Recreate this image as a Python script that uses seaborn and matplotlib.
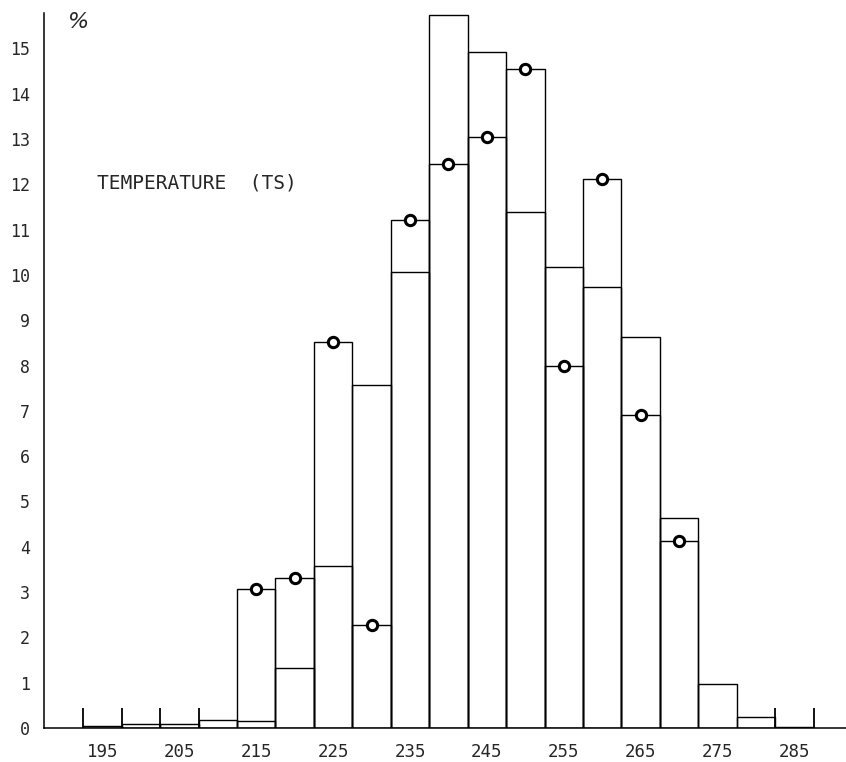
import numpy as np
import pandas as pd
import matplotlib
matplotlib.use("Agg")
import matplotlib.pyplot as plt
import seaborn as sns

# ---- data ----
bin_centers = [195, 200, 205, 210, 215, 220, 225, 230, 235, 240,
               245, 250, 255, 260, 265, 270, 275, 280, 285]
pct_series1 = [0.04, 0.08, 0.08, 0.17, 0.16, 1.32, 3.58, 7.56, 10.06, 15.74,
               14.91, 11.38, 10.17, 9.74, 8.63, 4.64, 0.98, 0.25, 0.02]
pct_series2 = [0, 0, 0, 0, 3.07, 3.30, 8.53, 2.28, 11.22, 12.45,
               13.05, 14.55, 7.98, 12.12, 6.91, 4.13, 0, 0, 0]
marked_bins = [195, 205, 285]
mark_height = 0.45
x_tick_values = [195, 205, 215, 225, 235, 245, 255, 265, 275, 285]
y_tick_values = list(range(0, 16))
title_text = "TEMPERATURE  (TS)"
unit_text = "%"

bin_width = 5
brange = (min(bin_centers) - bin_width / 2, max(bin_centers) + bin_width / 2)

sns.set_style("white")
plt.rcParams["font.family"] = ["DejaVu Sans Mono", "DejaVu Sans"]

W, H = 846, 762
fig = plt.figure(figsize=(W / 100, H / 100), dpi=100)
ax = fig.add_axes([44 / W, 1 - 728 / H, 1 - 44 / W, (728 - 13) / H])

df = pd.DataFrame({"t": bin_centers, "s1": pct_series1, "s2": pct_series2})

for col in ["s1", "s2"]:
    sns.histplot(data=df, x="t", weights=col, binwidth=bin_width,
                 binrange=brange, fill=False, color="black", linewidth=1.0,
                 ax=ax, element="bars")

dm = df[df["s2"] > 0]
sns.scatterplot(data=dm, x="t", y="s2", marker="o", s=55,
                facecolor="white", edgecolor="black", linewidth=2.2,
                ax=ax, zorder=5)

for c in marked_bins:
    ax.vlines([c - bin_width / 2, c + bin_width / 2], 0, mark_height,
              color="black", linewidth=1.3)

ax.set_xlim(187.4, 291.7)
ax.set_ylim(0, 15.78)
ax.set_xlabel("")
ax.set_ylabel("")

ax.set_xticks(x_tick_values)
ax.set_xticklabels([str(v) for v in x_tick_values])
ax.set_yticks(y_tick_values)
ax.set_yticklabels([str(v) for v in y_tick_values])
ax.tick_params(axis="x", length=0, pad=11, labelsize=12.5)
ax.tick_params(axis="y", direction="in", length=8, width=1.1, pad=10,
               labelsize=12)
ax.yaxis.get_major_ticks()[10].tick1line.set_markersize(15)

for s in ["top", "right"]:
    ax.spines[s].set_visible(False)
for s in ["left", "bottom"]:
    ax.spines[s].set_color("black")
    ax.spines[s].set_linewidth(1.1)

fig.text(79 / W, 1 - 22 / H, unit_text, ha="center", va="center",
         fontsize=16, style="italic", family=["DejaVu Sans"])
fig.text(97 / W, 1 - 183 / H, title_text, ha="left", va="center",
         fontsize=14)

fig.savefig("out.png", dpi=100, facecolor="white")
